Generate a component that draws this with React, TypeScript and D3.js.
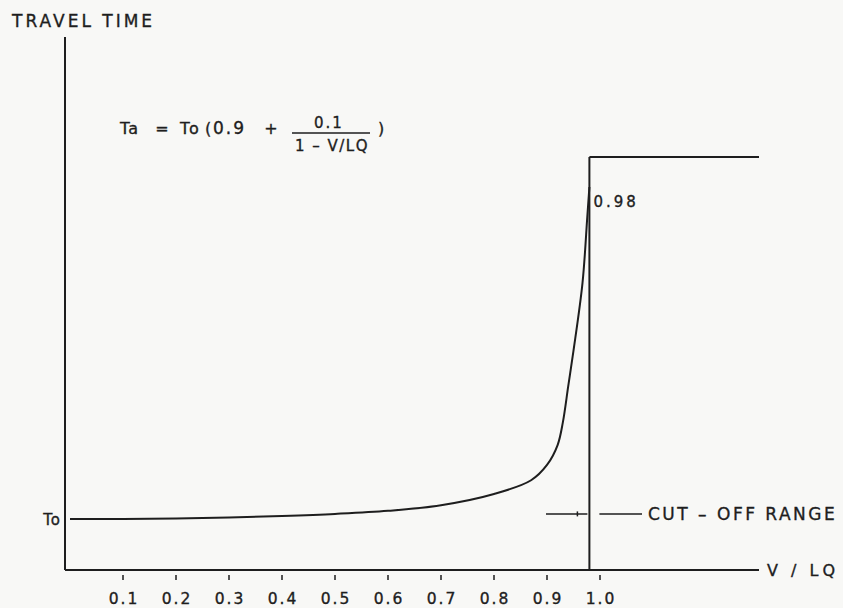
import React from "react";
import * as d3 from "d3";

// curve: V/LQ vs travel time (in units of To)
const curveV = [0, 0.1, 0.2, 0.3, 0.4, 0.5, 0.6, 0.7, 0.8, 0.87, 0.9, 0.92, 0.93, 0.94, 0.95, 0.967, 0.976, 0.98];
const curveT = [1.0, 1.0, 1.01, 1.03, 1.06, 1.1, 1.16, 1.27, 1.49, 1.76, 2.06, 2.45, 2.9, 3.6, 4.3, 5.63, 6.92, 7.51];

const xTicks = [0.1, 0.2, 0.3, 0.4, 0.5, 0.6, 0.7, 0.8, 0.9, 1.0];
const xTickLabels = ["0.1", "0.2", "0.3", "0.4", "0.5", "0.6", "0.7", "0.8", "0.9", "1.0"];

const cutoffV = 0.98;
const cutoffTop = 8.1;
const xAxisEnd = 1.3;
const cutoffMarkT = 1.1;

const W = 843;
const H = 608;
const ink = "#1e1e1e";
const font = "'DejaVu Sans', sans-serif";

export default function App() {
  const x = d3.scaleLinear().domain([0, 1]).range([70, 600]);
  const y = d3.scaleLinear().domain([0, 1]).range([570, 519]);
  const x0 = 65;

  const pts = curveV.map((v, i) => [v, curveT[i]] as [number, number]);
  const line = d3
    .line<[number, number]>()
    .x((d) => x(d[0]))
    .y((d) => y(d[1]))
    .curve(d3.curveCatmullRom.alpha(0.5));

  const cx = x(cutoffV);
  const my = y(cutoffMarkT);
  const txt = { stroke: ink, strokeWidth: 0.35 };

  return (
    <svg
      width={W}
      height={H}
      style={{ position: "absolute", left: 0, top: 0, background: "#f8f8f6" }}
      fontFamily={font}
      fill={ink}
    >
      {/* y axis title */}
      <text x={12} y={27} fontSize={17} letterSpacing={3} {...txt}>TRAVEL TIME</text>

      {/* axes */}
      <line x1={x0} y1={37} x2={x0} y2={y(0)} stroke={ink} strokeWidth={2} />
      <line x1={x0} y1={y(0)} x2={x(xAxisEnd)} y2={y(0)} stroke={ink} strokeWidth={2} />
      <text x={x(xAxisEnd) + 8} y={y(0) + 6} fontSize={16} letterSpacing={4} {...txt}>V / LQ</text>

      {/* ticks */}
      {xTicks.map((t, i) => (
        <g key={i}>
          <line x1={x(t)} y1={y(0) + 5} x2={x(t)} y2={y(0) + 10} stroke={ink} strokeWidth={1.5} />
          <text x={x(t) + 1} y={y(0) + 34} fontSize={15.5} letterSpacing={2} textAnchor="middle" {...txt}>
            {xTickLabels[i]}
          </text>
        </g>
      ))}

      {/* To label */}
      <text x={x0 - 4} y={y(1) + 6} fontSize={15} letterSpacing={1} textAnchor="end" {...txt}>To</text>

      {/* curve */}
      <path d={line(pts) || ""} fill="none" stroke={ink} strokeWidth={2} />

      {/* cut-off vertical + top plateau */}
      <line x1={cx} y1={y(0)} x2={cx} y2={y(cutoffTop)} stroke={ink} strokeWidth={2} />
      <line x1={cx} y1={y(cutoffTop)} x2={x(xAxisEnd)} y2={y(cutoffTop)} stroke={ink} strokeWidth={2} />
      <text x={cx + 4} y={y(cutoffTop) + 50} fontSize={15} letterSpacing={3} {...txt}>0.98</text>

      {/* cut-off range marker */}
      <line x1={546} y1={my} x2={cx - 2} y2={my} stroke={ink} strokeWidth={1.5} />
      <line x1={cx - 12} y1={my - 2.5} x2={cx - 12} y2={my + 2.5} stroke={ink} strokeWidth={1.5} />
      <line x1={cx + 10} y1={my} x2={642} y2={my} stroke={ink} strokeWidth={1.5} />
      <text x={648} y={my + 6} fontSize={17} letterSpacing={2.5} {...txt}>CUT – OFF RANGE</text>

      {/* formula */}
      <g fontSize={16} {...txt}>
        <text x={120} y={134} letterSpacing={1}>Ta</text>
        <text x={162} y={134} textAnchor="middle">=</text>
        <text x={180} y={134} letterSpacing={2}>To</text>
        <text x={205} y={134}>(</text>
        <text x={213} y={134} fontSize={17} letterSpacing={2}>0.9</text>
        <text x={271} y={134} textAnchor="middle">+</text>
        <text x={329} y={128} fontSize={15} letterSpacing={2} textAnchor="middle">0.1</text>
        <text x={332} y={151} fontSize={15} letterSpacing={1.5} textAnchor="middle">1 – V/LQ</text>
        <text x={378} y={134}>)</text>
      </g>
      <line x1={292} y1={133} x2={370} y2={133} stroke={ink} strokeWidth={1.5} />
    </svg>
  );
}
